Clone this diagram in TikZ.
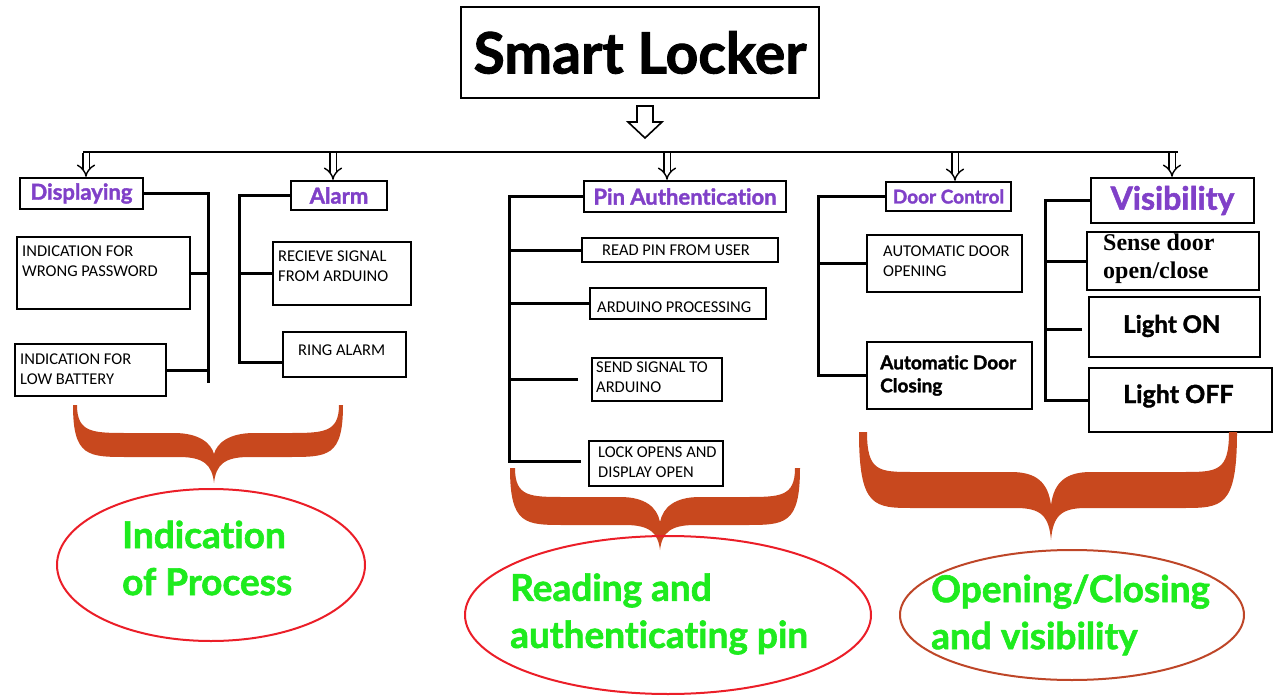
\documentclass[tikz,border=0pt]{standalone}
\usepackage{fontspec}
\setmainfont{Carlito}
\newfontfamily\latof{Lato}[Ligatures=NoCommon]
\newfontfamily\latoh{Lato}[Ligatures=NoCommon, BoldFeatures={FakeBold=1.6}]
\newfontfamily\serf{Liberation Serif}
\usetikzlibrary{arrows.meta,shapes.geometric}
\definecolor{purp}{RGB}{128,64,200}
\definecolor{grn}{RGB}{30,235,30}
\definecolor{bracec}{RGB}{200,72,30}
\definecolor{redl}{RGB}{235,30,40}
\definecolor{redb}{RGB}{190,70,40}
\newcommand{\mybrace}[8]{%
\fill[bracec] (#1,#3) .. controls (#1,#5) and (#1+15,#5) .. (#1+55,#5) -- (#6-35,#5)
 .. controls (#6-10,#5) and (#6-2,#5+8) .. (#6,#7)
 .. controls (#6+2,#5+8) and (#6+10,#5) .. (#6+35,#5) -- (#2-55,#5)
 .. controls (#2-15,#5) and (#2,#5) .. (#2,#3) -- (#2-#8,#3)
 .. controls (#2-#8,#4) and (#2-20,#4) .. (#2-55,#4) -- (#6+40,#4)
 .. controls (#6+15,#4) and (#6+3,#4+10) .. (#6,#5-3)
 .. controls (#6-3,#4+10) and (#6-15,#4) .. (#6-40,#4) -- (#1+55,#4)
 .. controls (#1+20,#4) and (#1+#8,#4) .. (#1+#8,#3) -- cycle;}
\begin{document}
\begin{tikzpicture}[x=1pt,y=-1pt,
  bx/.style={draw, line width=2.4, inner sep=0, rectangle},
  ttl/.style={bx, text=purp, font=\latoh\bfseries\fontsize{22}{24}\selectfont},
  ln/.style={line width=3},
  imp/.style={double, double distance=5pt, line width=1.4pt, -{Implies}},
  sm/.style={font=\fontsize{16.5}{20}\selectfont, align=left, anchor=west, inner sep=0},
  bd/.style={align=left, anchor=west, inner sep=0},
  gr/.style={text=grn, font=\latoh\bfseries\fontsize{37}{47}\selectfont, align=left, anchor=west, inner sep=0},
  ell/.style={ellipse, draw, line width=2, inner sep=0}]
\useasboundingbox (0,0) rectangle (1280,698);
% title
\node[bx, line width=2.6, minimum width=358, minimum height=91, font=\latoh\bfseries\fontsize{57}{60}\selectfont] (title) at (640,52.5) {Smart Locker};
\draw[line width=1.6] (637,106) -- (653,106) -- (653,122) -- (662,122) -- (645,138) -- (628,122) -- (637,122) -- cycle;
% category boxes
\node[ttl, minimum width=123, minimum height=31] (disp) at (81.5,193.5) {Displaying};
\node[ttl, minimum width=96, minimum height=29] (alarm) at (339,195.5) {Alarm};
\node[ttl, minimum width=202, minimum height=31] (pin) at (685,196.5) {Pin Authentication};
\node[ttl, minimum width=125, minimum height=29, font=\latoh\bfseries\fontsize{19}{22}\selectfont] (door) at (948.5,196.5) {Door Control};
\node[ttl, minimum width=163, minimum height=45, font=\latoh\bfseries\fontsize{32}{34}\selectfont] (vis) at (1172.5,200.5) {Visibility};
% bus and arrows
\coordinate (b1) at (86,153);
\coordinate (b2) at (333,153);
\coordinate (b3) at (667,153);
\coordinate (b4) at (955,153);
\coordinate (b5) at (1172,153);
\draw[imp] (b1) -- (b1 |- disp.north);
\draw[imp] (b2) -- (b2 |- alarm.north);
\draw[imp] (b3) -- (b3 |- pin.north);
\draw[imp] (b4) -- (b4 |- door.north);
\draw[imp] (b5) -- (b5 |- vis.north);
\coordinate (busL) at (83,152);
\coordinate (busR) at (1178,152);
\draw[line width=2.4] (busL) -- (busR);
% sub boxes
\node[bx, minimum width=173, minimum height=72] (d1) at (103.5,273) {};
\node[bx, minimum width=151, minimum height=52] (d2) at (90.5,370) {};
\node[bx, minimum width=138, minimum height=63] (a1) at (342,273.5) {};
\node[bx, minimum width=123, minimum height=45] (a2) at (344.5,354.5) {};
\node[bx, minimum width=196, minimum height=24] (p1) at (680,250) {};
\node[bx, minimum width=176, minimum height=31] (p2) at (678,303.5) {};
\node[bx, minimum width=130, minimum height=43] (p3) at (657,379.5) {};
\node[bx, minimum width=134, minimum height=45] (p4) at (656,463.5) {};
\node[bx, minimum width=155, minimum height=57] (c1) at (944.5,263.5) {};
\node[bx, minimum width=165, minimum height=67] (c2) at (949.5,375.5) {};
\node[bx, minimum width=172, minimum height=58] (v1) at (1173,261) {};
\node[bx, minimum width=171, minimum height=60] (v2) at (1174.5,327) {};
\node[bx, minimum width=183, minimum height=64] (v3) at (1180.5,400) {};
% texts
\node[sm] (td1) at (22,261) {INDICATION FOR\\WRONG PASSWORD};
\node[sm] (td2) at (20,369) {INDICATION FOR\\LOW BATTERY};
\node[sm] (ta1) at (278,266) {RECIEVE SIGNAL\\FROM ARDUINO};
\node[sm] (ta2) at (298,350) {RING ALARM};
\node[sm] (tp1) at (602,250) {READ PIN FROM USER};
\node[sm] (tp2) at (597,307) {ARDUINO PROCESSING};
\node[sm] (tp3) at (596,377) {SEND SIGNAL TO\\ARDUINO};
\node[sm] (tp4) at (598,462) {LOCK OPENS AND\\DISPLAY OPEN};
\node[sm] (tc1) at (883,261.5) {AUTOMATIC DOOR\\OPENING};
\node[bd, font=\latoh\bfseries\fontsize{19}{23}\selectfont] (tc2) at (880,375.5) {Automatic Door\\Closing};
\node[bd, font=\serf\bfseries\fontsize{24}{28}\selectfont] (tv1) at (1103,259) {Sense door\\open/close};
\node[bd, font=\latoh\bfseries\fontsize{24}{28}\selectfont] (tv2) at (1123,326) {Light ON};
\node[bd, font=\latoh\bfseries\fontsize{25}{28}\selectfont] (tv3) at (1123,396) {Light OFF};
% spines
\coordinate (dsT) at (208,193.5);
\coordinate (dsB) at (208,383);
\draw[ln] (disp.east) -- (dsT) -- (dsB);
\draw[ln] (d1.east) -- (d1.east -| dsT);
\draw[ln] (d2.east) -- (d2.east -| dsT);
\coordinate (asT) at (239,195.5);
\coordinate (asB) at (239,362);
\draw[ln] (alarm.west) -- (asT) -- (asB) -- (asB -| a2.west);
\draw[ln] (a1.west) -- (a1.west -| asT);
\coordinate (psT) at (509,196.5);
\coordinate (psB) at (509,461);
\coordinate (p3e) at (578,379);
\coordinate (p4e) at (581,461);
\draw[ln] (pin.west) -- (psT) -- (psB) -- (p4e);
\draw[ln] (p1.west) -- (p1.west -| psT);
\draw[ln] (p2.west) -- (p2.west -| psT);
\draw[ln] (p3e) -- (p3e -| psT);
\coordinate (csT) at (818,196.5);
\draw[ln] (door.west) -- (csT) -- (c2.west -| csT) -- (c2.west);
\draw[ln] (c1.west) -- (c1.west -| csT);
\coordinate (vsT) at (1045,200.5);
\coordinate (v2e) at (1082,329);
\draw[ln] (vis.west) -- (vsT) -- (v3.west -| vsT) -- (v3.west);
\draw[ln] (v1.west) -- (v1.west -| vsT);
\draw[ln] (v2e) -- (v2e -| vsT);
% braces
\mybrace{73}{343}{405}{433}{457}{214}{483}{4}
\mybrace{510}{800}{468}{497}{525}{660}{550}{5}
\mybrace{859}{1237}{432}{472}{508}{1051}{540}{8}
% ellipses
\node[ell, draw=redl, minimum width=308, minimum height=152] (e1) at (211,565) {};
\node[ell, draw=redl, minimum width=406, minimum height=158] (e2) at (668,615) {};
\node[ell, draw=redb, minimum width=344, minimum height=130] (e3) at (1072,615) {};
\node[gr] (g1) at (122,558) {Indication\\of Process};
\node[gr] (g2) at (510,614) {Reading and\\authenticating pin};
\node[gr] (g3) at (931,615) {Opening/Closing\\and visibility};
\end{tikzpicture}
\end{document}
